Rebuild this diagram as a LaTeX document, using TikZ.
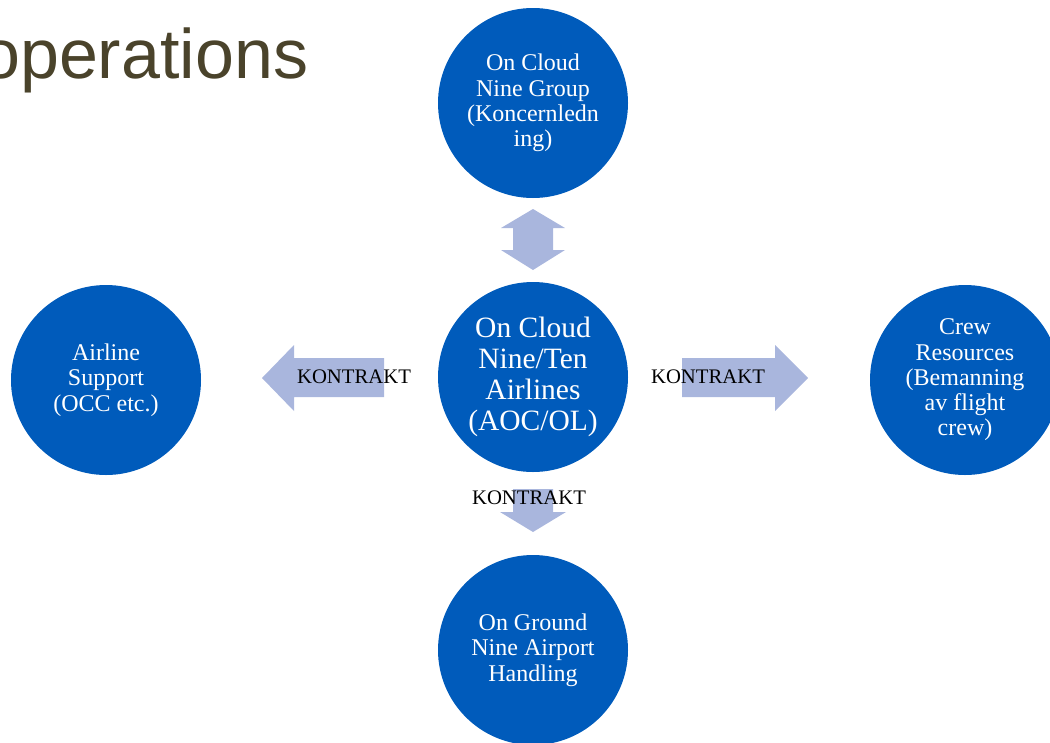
\documentclass[tikz,border=0pt]{standalone}
\usepackage{fontspec}
\setmainfont{Liberation Serif}
\newfontfamily\titlefont{Liberation Sans}
\usepackage{tikz}
\usetikzlibrary{calc}
\definecolor{orgblue}{RGB}{0,91,187}
\definecolor{arrowblue}{RGB}{169,182,221}
\definecolor{titleolive}{RGB}{74,67,43}
\begin{document}
\begin{tikzpicture}[x=1pt,y=-1pt,
  unit/.style={circle,fill=orgblue,draw=none,minimum size=190pt,inner sep=0pt,
    text=white,align=center,font=\fontsize{24}{25.3}\selectfont},
  mainunit/.style={unit,font=\fontsize{29.5}{31}\selectfont},
  blockarrow/.style={fill=arrowblue,draw=none},
  kontrakt/.style={font=\fontsize{20.7}{22}\selectfont,inner sep=0pt}]
\useasboundingbox (0,0) rectangle (1050,742);
\node[anchor=base west,inner sep=0pt,text=titleolive,font=\titlefont\fontsize{70}{74}\selectfont] (title) at (-19,78) {operations};
\node[unit] (group) at (533,103) {On Cloud\\Nine Group\\(Koncernledn\\ing)};
\node[mainunit] (airlines) at (533,377) {On Cloud\\Nine/Ten\\Airlines\\(AOC/OL)};
\node[unit] (support) at (106,380) {Airline\\Support\\(OCC etc.)};
\node[unit] (crew) at (965,380) {Crew\\Resources\\(Bemanning\\av flight\\crew)};
\node[unit] (ground) at (533,650) {On Ground\\Nine Airport\\Handling};
\fill[blockarrow] (533,209) -- (565,228) -- (553,228) -- (553,250) -- (565,250) -- (533,270)
  -- (501,250) -- (513,250) -- (513,228) -- (501,228) -- cycle;
\fill[blockarrow] (262,378) -- (294,345) -- (294,358) -- (384,358) -- (384,397) -- (294,397)
  -- (294,411) -- cycle;
\fill[blockarrow] (808,378) -- (775,345) -- (775,358) -- (682,358) -- (682,397) -- (775,397)
  -- (775,411) -- cycle;
\fill[blockarrow] (533,532) -- (566,512) -- (553,512) -- (553,489) -- (513,489) -- (513,512)
  -- (500,512) -- cycle;
\node[kontrakt] (kleft) at (354,377) {KONTRAKT};
\node[kontrakt] (kright) at (708,377) {KONTRAKT};
\node[kontrakt] (kdown) at (529,498) {KONTRAKT};
\end{tikzpicture}
\end{document}
